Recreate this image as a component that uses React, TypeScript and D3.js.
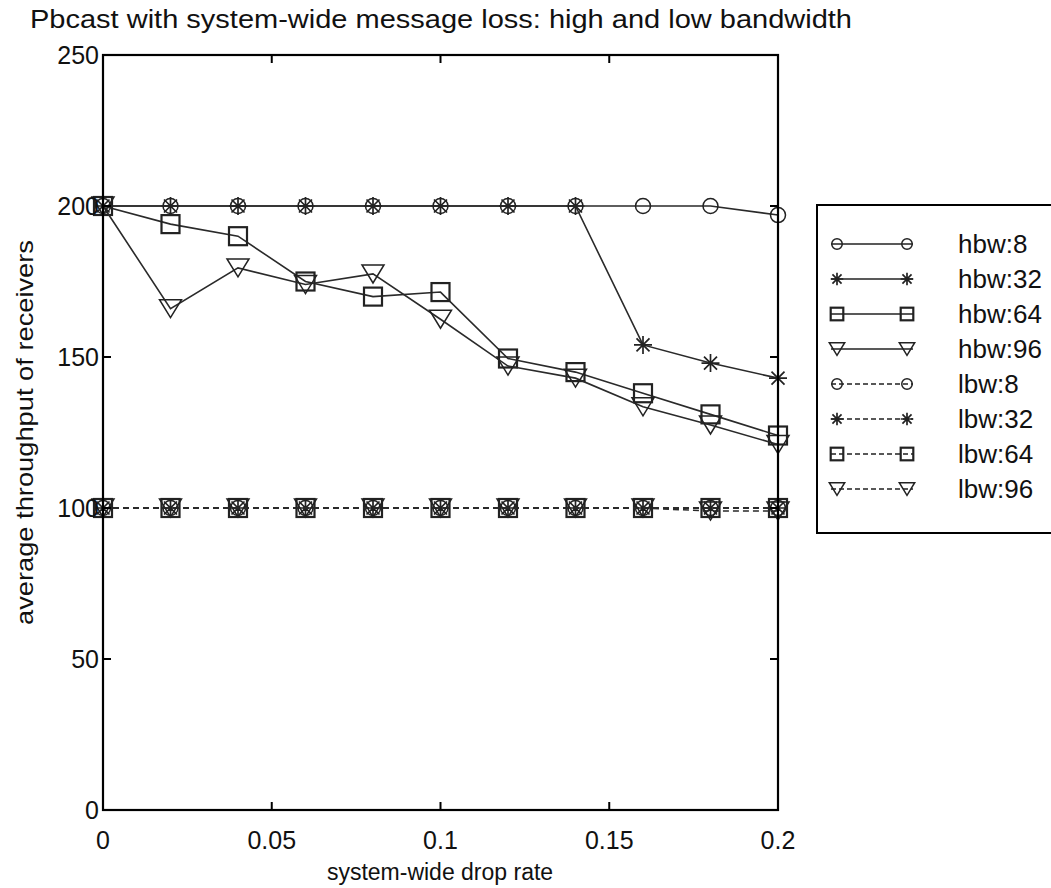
import React from "react";
import * as d3 from "d3";

const dropRates = [0, 0.02, 0.04, 0.06, 0.08, 0.1, 0.12, 0.14, 0.16, 0.18, 0.2];
const hbw8 = [200, 200, 200, 200, 200, 200, 200, 200, 200, 200, 197];
const hbw32 = [200, 200, 200, 200, 200, 200, 200, 200, 154, 148, 143];
const hbw64 = [200, 194, 190, 175, 170, 171.5, 149.5, 145, 138, 131, 124];
const hbw96 = [200, 166, 179.5, 174, 177.5, 162.5, 147, 143, 133.5, 127.5, 121];
const lbw8 = [100, 100, 100, 100, 100, 100, 100, 100, 100, 100, 100];
const lbw32 = [100, 100, 100, 100, 100, 100, 100, 100, 100, 100, 100];
const lbw64 = [100, 100, 100, 100, 100, 100, 100, 100, 100, 100, 100];
const lbw96 = [100, 100, 100, 100, 100, 100, 100, 100, 100, 99, 99];
const xTicks = [0, 0.05, 0.1, 0.15, 0.2];
const xTickLabels = ["0", "0.05", "0.1", "0.15", "0.2"];
const yTicks = [0, 50, 100, 150, 200, 250];
const seriesNames = ["hbw:8", "hbw:32", "hbw:64", "hbw:96", "lbw:8", "lbw:32", "lbw:64", "lbw:96"];
const seriesMarkers = ["circle", "star", "square", "triangle", "circle", "star", "square", "triangle"];
const seriesDashed = [false, false, false, false, true, true, true, true];
const seriesValues = [hbw8, hbw32, hbw64, hbw96, lbw8, lbw32, lbw64, lbw96];

const W = 1051;
const H = 888;
const left = 103;
const right = 778;
const top = 55;
const bottom = 810;
const font = "'Liberation Sans', Arial, sans-serif";

function Marker({ type, x, y, s }: { type: string; x: number; y: number; s: number }) {
  const stroke = "#222";
  if (type === "circle") {
    return <circle cx={x} cy={y} r={7.5 * s} fill="none" stroke={stroke} strokeWidth={1.5} />;
  }
  if (type === "square") {
    const h = 9 * s;
    return <rect x={x - h} y={y - h} width={2 * h} height={2 * h} fill="none" stroke={stroke} strokeWidth={2.2} />;
  }
  if (type === "triangle") {
    const w = 11 * s;
    const hh = 9 * s;
    const p = `M${x - w},${y - hh}L${x + w},${y - hh}L${x},${y + hh}Z`;
    return <path d={p} fill="none" stroke={stroke} strokeWidth={1.5} />;
  }
  const a = 9 * s;
  const b = 6.5 * s;
  const d = `M${x},${y - a}L${x},${y + a}M${x - a},${y}L${x + a},${y}M${x - b},${y - b}L${x + b},${y + b}M${x - b},${y + b}L${x + b},${y - b}`;
  return <path d={d} fill="none" stroke={stroke} strokeWidth={1.7} />;
}

export default function App() {
  const x = d3.scaleLinear().domain([0, 0.2]).range([left, right]);
  const y = d3.scaleLinear().domain([0, 250]).range([bottom, top]);
  const line = d3
    .line<number>()
    .x((_, i) => x(dropRates[i]))
    .y((v) => y(v));

  const legX = 817;
  const legY = 205;
  const rowY0 = 244;
  const rowStep = 35;

  return (
    <svg
      width={W}
      height={H}
      style={{ position: "absolute", left: 0, top: 0, background: "#fff" }}
      fontFamily={font}
    >
      <rect x={0} y={0} width={W} height={H} fill="#fff" />
      <text x={30} y={28} fontSize={25} fill="#111" textLength={822} lengthAdjust="spacingAndGlyphs">
        Pbcast with system-wide message loss: high and low bandwidth
      </text>

      {seriesValues.map((vals, si) => (
        <g key={si}>
          <path
            d={line(vals) || ""}
            fill="none"
            stroke="#2a2a2a"
            strokeWidth={1.6}
            strokeDasharray={seriesDashed[si] ? "6,4" : undefined}
          />
          {vals.map((v, i) => (
            <Marker key={i} type={seriesMarkers[si]} x={x(dropRates[i])} y={y(v)} s={1} />
          ))}
        </g>
      ))}

      <rect x={left} y={top} width={right - left} height={bottom - top} fill="none" stroke="#000" strokeWidth={2.2} />
      {xTicks.map((t, i) => (
        <g key={"xt" + i}>
          <line x1={x(t)} x2={x(t)} y1={bottom} y2={bottom - 8} stroke="#000" strokeWidth={2} />
          <line x1={x(t)} x2={x(t)} y1={top} y2={top + 8} stroke="#000" strokeWidth={2} />
          <text x={x(t)} y={849} fontSize={25} textAnchor="middle" fill="#111">
            {xTickLabels[i]}
          </text>
        </g>
      ))}
      {yTicks.map((t, i) => (
        <g key={"yt" + i}>
          <line x1={left} x2={left + 8} y1={y(t)} y2={y(t)} stroke="#000" strokeWidth={2} />
          <line x1={right} x2={right - 8} y1={y(t)} y2={y(t)} stroke="#000" strokeWidth={2} />
          <text x={99} y={y(t) + 9} fontSize={25} textAnchor="end" fill="#111">
            {t}
          </text>
        </g>
      ))}
      <text x={440} y={880} fontSize={23} textAnchor="middle" fill="#111">
        system-wide drop rate
      </text>
      <text
        transform={`translate(33,${(top + bottom) / 2}) rotate(-90)`}
        fontSize={24}
        textAnchor="middle"
        fill="#111"
        textLength={385}
        lengthAdjust="spacingAndGlyphs"
      >
        average throughput of receivers
      </text>

      <rect x={legX} y={legY} width={260} height={328} fill="#fff" stroke="#000" strokeWidth={2} />
      {seriesNames.map((name, i) => {
        const ry = rowY0 + i * rowStep;
        return (
          <g key={"lg" + i}>
            <line
              x1={831}
              x2={913}
              y1={ry}
              y2={ry}
              stroke="#222"
              strokeWidth={1.6}
              strokeDasharray={seriesDashed[i] ? "5,3" : undefined}
            />
            <Marker type={seriesMarkers[i]} x={837} y={ry} s={0.7} />
            <Marker type={seriesMarkers[i]} x={907} y={ry} s={0.7} />
            <text x={958} y={ry + 9} fontSize={26} fill="#111">
              {name}
            </text>
          </g>
        );
      })}
    </svg>
  );
}
